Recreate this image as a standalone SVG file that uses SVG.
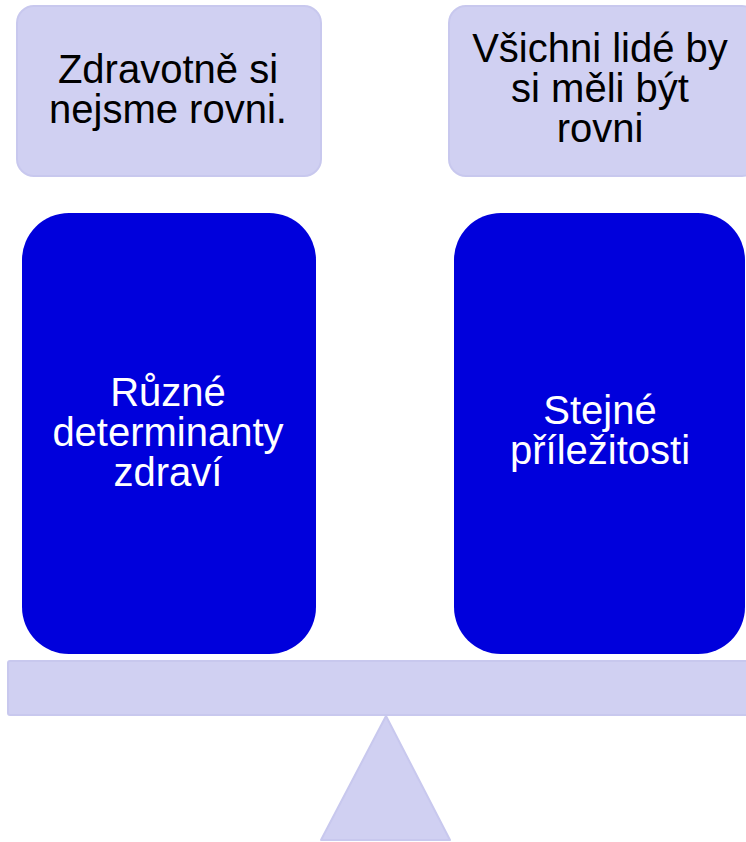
<svg xmlns="http://www.w3.org/2000/svg" width="746" height="842" viewBox="0 0 746 842">
<style>
.light{fill:#D0D0F2;stroke:#C8C8EE;stroke-width:2}
.blue{fill:#0000DC}
.t{font-family:"Liberation Sans",Arial,sans-serif;font-size:40px;text-anchor:middle}
.dark{fill:#000000}
.white{fill:#FFFFFF}
</style>
<rect width="746" height="842" fill="#FFFFFF"/>
<g id="top-left">
<rect class="light" x="17" y="6" width="304" height="170" rx="17"/>
<text class="t dark" x="168" y="83">Zdravotně si</text>
<text class="t dark" x="168" y="123">nejsme rovni.</text>
</g>
<g id="top-right">
<rect class="light" x="449" y="6" width="310" height="170" rx="17"/>
<text class="t dark" x="600" y="62">Všichni lidé by</text>
<text class="t dark" x="600" y="102">si měli být</text>
<text class="t dark" x="600" y="142">rovni</text>
</g>
<g id="left-block">
<rect class="blue" x="22" y="213" width="294" height="441" rx="47"/>
<text class="t white" x="168" y="406">Různé</text>
<text class="t white" x="168" y="446">determinanty</text>
<text class="t white" x="168" y="486">zdraví</text>
</g>
<g id="right-block">
<rect class="blue" x="454" y="213" width="291" height="441" rx="47"/>
<text class="t white" x="600" y="424">Stejné</text>
<text class="t white" x="600" y="464">příležitosti</text>
</g>
<g id="beam">
<rect class="light" x="8" y="661" width="750" height="54" rx="2"/>
</g>
<g id="fulcrum">
<polygon class="light" points="386,716 450,840 321,840" stroke-linejoin="round"/>
</g>
<g id="connectors"></g>
</svg>
